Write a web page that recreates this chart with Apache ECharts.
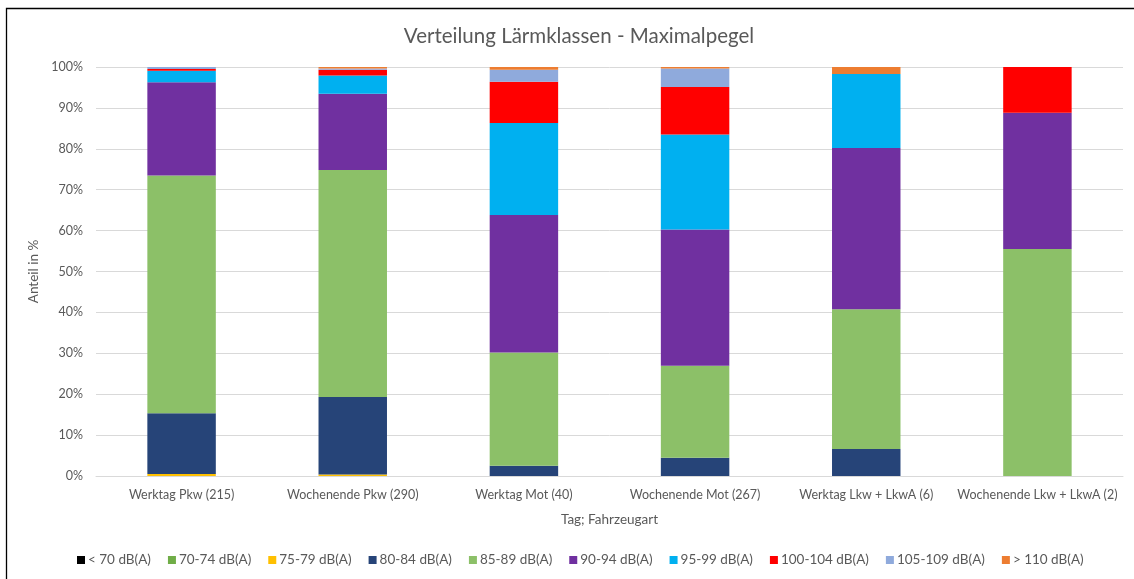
<!DOCTYPE html>
<html>
<head>
<meta charset="utf-8">
<script src="https://cdn.jsdelivr.net/npm/echarts@6/dist/echarts.min.js"></script>
<style>
  html, body { margin: 0; padding: 0; background: #ffffff; }
  #chart { width: 1134px; height: 579px; }
</style>
</head>
<body>
<div id="chart"></div>
<script>
// Vehicle groups (day type; vehicle class with number of passes)
const categories = [
  'Werktag Pkw (215)',
  'Wochenende Pkw (290)',
  'Werktag Mot (40)',
  'Wochenende Mot (267)',
  'Werktag Lkw + LkwA (6)',
  'Wochenende Lkw + LkwA (2)'
];

// Share of each maximum-level class per group, in %
const lt70    = [0, 0, 0, 0, 0, 0];
const c70_74  = [0, 0, 0, 0, 0, 0];
const c75_79  = [0.47, 0.34, 0, 0, 0, 0];
const c80_84  = [14.88, 18.97, 2.5, 4.49, 6.6, 0];
const c85_89  = [58.14, 55.52, 27.7, 22.47, 34.2, 55.5];
const c90_94  = [22.79, 18.62, 33.6, 33.33, 39.4, 33.3];
const c95_99  = [2.79, 4.48, 22.5, 23.22, 18.1, 0];
const c100_104 = [0.47, 1.38, 10.1, 11.61, 0, 11.2];
const c105_109 = [0.47, 0.34, 2.9, 4.49, 0, 0];
const gt110   = [0, 0.34, 0.7, 0.37, 1.7, 0];

const classNames = ['< 70 dB(A)', '70-74 dB(A)', '75-79 dB(A)', '80-84 dB(A)', '85-89 dB(A)',
                    '90-94 dB(A)', '95-99 dB(A)', '100-104 dB(A)', '105-109 dB(A)', '> 110 dB(A)'];
const classData = [lt70, c70_74, c75_79, c80_84, c85_89, c90_94, c95_99, c100_104, c105_109, gt110];
const classColors = ['#000000', '#70AD47', '#FFC000', '#264478', '#8CC068',
                     '#7030A0', '#00B0F0', '#FF0000', '#8FAADC', '#ED7D31'];

const yTicks = { min: 0, max: 100, interval: 10 };

const FONT = 'Lato, "Open Sans", sans-serif';
const TXT = '#595959';

const chart = echarts.init(document.getElementById('chart'), null, { renderer: 'canvas' });

const series = classNames.map((name, i) => ({
  name: name,
  type: 'bar',
  stack: 'total',
  barWidth: '40%',
  data: classData[i],
  itemStyle: { color: classColors[i] },
  emphasis: { disabled: true }
}));

chart.setOption({
  animation: false,
  backgroundColor: '#ffffff',
  textStyle: { fontFamily: FONT },
  title: {
    text: 'Verteilung Lärmklassen - Maximalpegel',
    left: 574,
    textAlign: 'center',
    top: 21,
    textStyle: { fontFamily: FONT, fontSize: 20.5, fontWeight: 'normal', color: TXT }
  },
  graphic: [{
    type: 'polyline',
    shape: { points: [[6.5, 590], [6.5, 8.5], [1140, 8.5]] },
    style: { stroke: '#000000', lineWidth: 1.3, fill: null },
    silent: true
  }],
  grid: { left: 96, right: 11, top: 67, bottom: 103, containLabel: false },
  legend: {
    bottom: 7,
    left: 72,
    itemWidth: 8,
    itemHeight: 8,
    itemGap: 17,
    icon: 'rect',
    textStyle: { fontFamily: FONT, fontSize: 13.5, color: TXT, padding: [0, 0, 0, -2] },
    data: classNames
  },
  xAxis: {
    type: 'category',
    data: categories,
    name: 'Tag; Fahrzeugart',
    nameLocation: 'middle',
    nameGap: 37,
    nameTextStyle: { fontFamily: FONT, fontSize: 13.5, color: TXT },
    axisLine: { show: true, lineStyle: { color: '#D9D9D9', width: 1 } },
    axisTick: { show: false },
    axisLabel: { fontFamily: FONT, fontSize: 12.5, color: TXT, margin: 12, interval: 0 }
  },
  yAxis: {
    type: 'value',
    min: yTicks.min,
    max: yTicks.max,
    interval: yTicks.interval,
    name: 'Anteil in %',
    nameLocation: 'middle',
    nameGap: 51,
    nameTextStyle: { fontFamily: FONT, fontSize: 13.5, color: TXT },
    axisLine: { show: false },
    axisTick: { show: false },
    axisLabel: { formatter: '{value}%', fontFamily: FONT, fontSize: 12.5, color: TXT, margin: 13 },
    splitLine: { lineStyle: { color: '#D9D9D9', width: 1 } }
  },
  series: series
});
</script>
</body>
</html>
